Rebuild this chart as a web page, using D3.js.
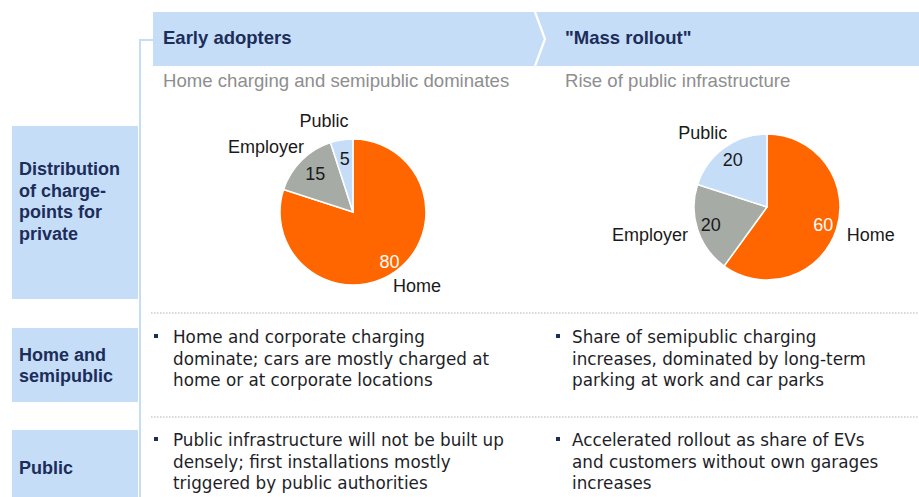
<!DOCTYPE html>
<html>
<head>
<meta charset="utf-8">
<script src="https://cdn.jsdelivr.net/npm/d3@7"></script>
<style>
  html, body { margin: 0; padding: 0; background: #fff; }
  svg { display: block; }
</style>
</head>
<body>
<svg id="chart" width="919" height="497"></svg>
<script>
// ---------------- DATA ----------------
const phases = ["Early adopters", "\"Mass rollout\""];
const phaseSubtitles = ["Home charging and semipublic dominates", "Rise of public infrastructure"];
const segments = ["Home", "Employer", "Public"];
const earlyShares = [80, 15, 5];
const massShares = [60, 20, 20];
const rowLabels = [
  ["Distribution", "of charge-", "points for", "private"],
  ["Home and", "semipublic"],
  ["Public"]
];
const semipublicText = [
  ["Home and corporate charging", "dominate; cars are mostly charged at", "home or at corporate locations"],
  ["Share of semipublic charging", "increases, dominated by long-term", "parking at work and car parks"]
];
const publicText = [
  ["Public infrastructure will not be built up", "densely; first installations mostly", "triggered by public authorities"],
  ["Accelerated rollout as share of EVs", "and customers without own garages", "increases"]
];

// ---------------- STYLE ----------------
const W = 919, H = 497;
const lightBlue = "#c6ddf8";
const navy = "#1c2d5a";
const colors = d3.scaleOrdinal().domain(segments).range(["#ff6600", "#a6aba6", "#c6ddf8"]);
const labelFont = "'Liberation Sans', Arial, sans-serif";
const bodyFont = "'DejaVu Sans', Verdana, sans-serif";

const svg = d3.select("#chart");

// column starts
const colStart = [153, 535];

// header band
const headerTop = 12, headerBot = 66;
svg.append("rect").attr("x", colStart[0]).attr("y", headerTop).attr("width", W - colStart[0]).attr("height", headerBot - headerTop).attr("fill", lightBlue);
// chevron divider
const chevX = colStart[1];
svg.append("path")
  .attr("d", `M${chevX},${headerTop} L${chevX + 10},${(headerTop + headerBot) / 2} L${chevX},${headerBot}`)
  .attr("fill", "none").attr("stroke", "#fff").attr("stroke-width", 2.2);

// bracket line
svg.append("path").attr("d", `M153,40 H140 V${H}`).attr("fill", "none").attr("stroke", lightBlue).attr("stroke-width", 2);

const textX = [163, 565];
phases.forEach((p, i) => {
  svg.append("text").attr("x", textX[i]).attr("y", 44).text(p)
    .attr("font-family", labelFont).attr("font-weight", "bold").attr("font-size", 18.5).attr("fill", navy);
  svg.append("text").attr("x", textX[i]).attr("y", 87).text(phaseSubtitles[i])
    .attr("font-family", labelFont).attr("font-size", 18.6).attr("fill", "#8e8e8e");
});

// row label boxes
const boxes = [
  { y0: 126, y1: 299, base: 175, step: 21.5 },
  { y0: 328, y1: 402, base: 361, step: 21 },
  { y0: 430, y1: H, base: 474, step: 21 }
];
boxes.forEach((b, i) => {
  svg.append("rect").attr("x", 12).attr("y", b.y0).attr("width", 126).attr("height", b.y1 - b.y0).attr("fill", lightBlue);
  rowLabels[i].forEach((line, j) => {
    svg.append("text").attr("x", 19).attr("y", b.base + j * b.step).text(line)
      .attr("font-family", labelFont).attr("font-weight", "bold").attr("font-size", 18).attr("fill", navy);
  });
});

// dotted separators
[313, 417].forEach(y => {
  svg.append("line").attr("x1", 151).attr("x2", W).attr("y1", y).attr("y2", y)
    .attr("stroke", "#b0b0b0").attr("stroke-width", 1).attr("stroke-dasharray", "1.5,1.5");
});

// ---------------- PIES ----------------
const R = 73;
const pie = d3.pie().sort(null).value(d => d.v);
const arc = d3.arc().innerRadius(0).outerRadius(R);
const pies = [
  { cx: 353, cy: 212, data: earlyShares, valR: [0.85, 0.73, 0.73], catPad: [12, 12, 24] },
  { cx: 767, cy: 207, data: massShares, valR: [0.81, 0.81, 0.8], catPad: [12, 12, 12] }
];
pies.forEach(pd => {
  const g = svg.append("g").attr("transform", `translate(${pd.cx},${pd.cy})`);
  const arcs = pie(segments.map((s, i) => ({ s, v: pd.data[i], i })));
  g.selectAll("path.slice").data(arcs).join("path")
    .attr("class", "slice")
    .attr("d", arc)
    .attr("fill", d => colors(d.data.s))
    .attr("stroke", "#fff").attr("stroke-width", 1.5);
  // value labels
  g.selectAll("text.val").data(arcs).join("text")
    .attr("class", "val")
    .attr("x", d => Math.sin((d.startAngle + d.endAngle) / 2) * R * pd.valR[d.index])
    .attr("y", d => -Math.cos((d.startAngle + d.endAngle) / 2) * R * pd.valR[d.index] + 6)
    .attr("text-anchor", "middle")
    .attr("font-family", labelFont).attr("font-size", 18)
    .attr("fill", d => d.index === 0 ? "#fff" : "#1a1a1a")
    .text(d => d.data.v);
  // category labels
  g.selectAll("text.cat").data(arcs).join("text")
    .attr("class", "cat")
    .attr("font-family", labelFont).attr("font-size", 18).attr("fill", "#1a1a1a")
    .attr("text-anchor", "middle")
    .text(d => d.data.s)
    .each(function (d) {
      const a = (d.startAngle + d.endAngle) / 2;
      const w = this.getComputedTextLength();
      const s = Math.sin(a), c = -Math.cos(a);
      const pad = pd.catPad[d.index];
      const x = s * (R + pad) + s * w / 2 - (d.index === 2 && pad > 12 ? 10 : 0);
      const y = c * (R + 12) + c * 7 + 6;
      d3.select(this).attr("x", x).attr("y", y);
    });
});

// ---------------- BULLET TEXT ----------------
const bulletX = [154, 556];
const bodyX = [173, 572];
function bulletBlock(texts, y0) {
  texts.forEach((lines, i) => {
    svg.append("rect").attr("x", bulletX[i]).attr("y", y0 - 9).attr("width", 4).attr("height", 4).attr("fill", navy);
    lines.forEach((line, j) => {
      svg.append("text").attr("x", bodyX[i]).attr("y", y0 + j * 21.5).text(line)
        .attr("font-family", bodyFont).attr("font-size", 16.8).attr("fill", "#1e1e28");
    });
  });
}
bulletBlock(semipublicText, 343);
bulletBlock(publicText, 446);
</script>
</body>
</html>
